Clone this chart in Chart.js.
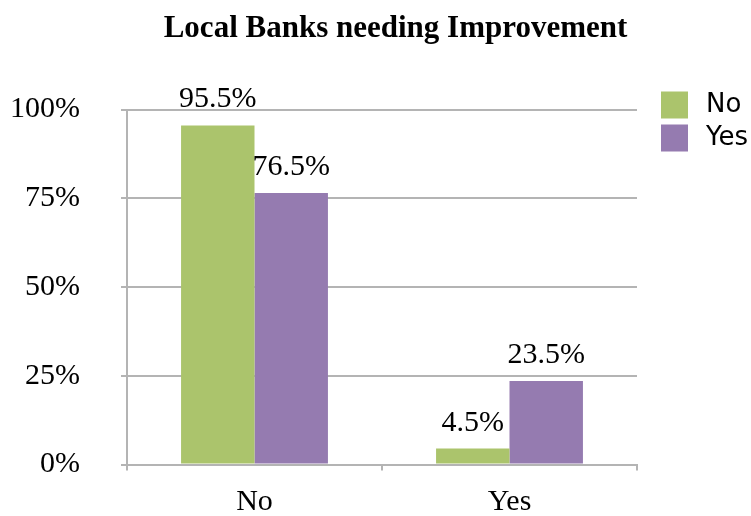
<!DOCTYPE html>
<html>
<head>
<meta charset="utf-8">
<script src="https://cdn.jsdelivr.net/npm/chart.js@4.4.1/dist/chart.umd.min.js"></script>
<style>
    html, body { margin: 0; padding: 0; background: #ffffff; }
    canvas { display: block; }
</style>
</head>
<body>
<canvas id="chart" width="751" height="516"></canvas>
<script>
// Survey answers: share of respondents per group
const titleText = 'Local Banks needing Improvement';
const categories = ['No', 'Yes'];
const seriesNames = ['No', 'Yes'];
const seriesNo = [95.5, 4.5];
const seriesYes = [76.5, 23.5];
const seriesColours = ['#abc46c', '#957bb0'];
const yTicks = [0, 25, 50, 75, 100];

const SERIF = '"Liberation Serif", "Times New Roman", serif';
const GRID = '#b4b4b4';

// Bold heading, centred a bit right of the canvas middle
const heading = {
    id: 'heading',
    afterDraw: (chart) => {
        const ctx = chart.ctx;
        ctx.save();
        ctx.font = 'bold 31px ' + SERIF;
        ctx.fillStyle = '#000000';
        ctx.textAlign = 'center';
        ctx.textBaseline = 'alphabetic';
        ctx.fillText(titleText, chart.width / 2 + 20, 37);
        ctx.restore();
    },
};

// Percent value printed above every bar
const barLabels = {
    id: 'barLabels',
    afterDatasetsDraw: (chart) => {
        const ctx = chart.ctx;
        ctx.save();
        ctx.font = '30px ' + SERIF;
        ctx.fillStyle = '#000000';
        ctx.textAlign = 'center';
        ctx.textBaseline = 'alphabetic';
        chart.data.datasets.forEach((ds, i) => {
            chart.getDatasetMeta(i).data.forEach((bar, j) => {
                ctx.fillText(ds.data[j].toFixed(1) + '%', bar.x, bar.y - 18);
            });
        });
        ctx.restore();
    },
};

// Small legend in the top right corner
const sideLegend = {
    id: 'sideLegend',
    afterDraw: (chart) => {
        const ctx = chart.ctx;
        const x = chart.chartArea.right + 24;
        let y = chart.chartArea.top - 18;
        ctx.save();
        ctx.font = '26px "DejaVu Sans", sans-serif';
        ctx.textAlign = 'left';
        ctx.textBaseline = 'middle';
        chart.data.datasets.forEach((ds) => {
            ctx.fillStyle = ds.backgroundColor;
            ctx.fillRect(x, y, 27, 27);
            ctx.fillStyle = '#000000';
            ctx.fillText(ds.label, x + 45, y + 14);
            y += 33;
        });
        ctx.restore();
    },
};

new Chart(document.getElementById('chart'), {
    type: 'bar',
    data: {
        labels: categories,
        datasets: [
            { label: seriesNames[0], data: seriesNo, backgroundColor: seriesColours[0] },
            { label: seriesNames[1], data: seriesYes, backgroundColor: seriesColours[1] },
        ],
    },
    plugins: [heading, barLabels, sideLegend],
    options: {
        responsive: false,
        animation: false,
        devicePixelRatio: 1,
        barPercentage: 1,
        categoryPercentage: 0.576,
        layout: {
            autoPadding: false,
            padding: { top: 109.5, right: 114, bottom: 0, left: 0 },
        },
        plugins: {
            legend: { display: false },
            tooltip: { enabled: false },
            title: { display: false },
        },
        scales: {
            x: {
                afterFit: (scale) => { scale.height = 51.5; },
                grid: {
                    offset: true,
                    drawOnChartArea: false,
                    drawTicks: true,
                    tickLength: 6,
                    color: GRID,
                    lineWidth: 2,
                },
                border: { color: GRID, width: 2 },
                ticks: {
                    color: '#000000',
                    padding: 14,
                    font: { family: SERIF, size: 30 },
                },
            },
            y: {
                min: 0,
                max: 100,
                afterFit: (scale) => { scale.width = 127; },
                afterBuildTicks: (scale) => {
                    scale.ticks = yTicks.map((v) => ({ value: v }));
                },
                grid: {
                    color: GRID,
                    lineWidth: 2,
                    tickLength: 6,
                },
                border: { color: GRID, width: 2 },
                ticks: {
                    color: '#000000',
                    padding: 41,
                    // small line height keeps the wide label gap from eating into the plot height
                    font: { family: SERIF, size: 30, lineHeight: 0.5 },
                    callback: (v) => v + '%',
                },
            },
        },
    },
});
</script>
</body>
</html>
